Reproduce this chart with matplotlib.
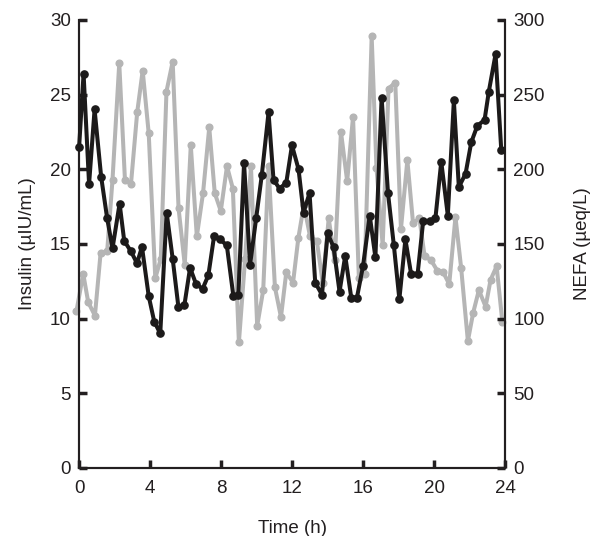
import matplotlib
matplotlib.use("Agg")
import matplotlib.pyplot as plt

plt.rcParams['font.family'] = ['Liberation Sans', 'DejaVu Sans']

# Insulin (grey, left axis, µIU/mL)
insulin_t = [-0.15, 0.23, 0.51, 0.89, 1.21, 1.58, 1.88, 2.26, 2.58, 2.92, 3.27, 3.58,
             3.92, 4.29, 4.60, 4.92, 5.27, 5.60, 5.95, 6.29, 6.63, 6.98, 7.33, 7.64,
             7.98, 8.33, 8.66, 9.00, 9.35, 9.68, 10.03, 10.37, 10.67, 11.03, 11.37, 11.67,
             12.05, 12.35, 12.66, 13.01, 13.39, 13.72, 14.06, 14.40, 14.75, 15.10, 15.43, 15.76,
             16.08, 16.48, 16.75, 17.10, 17.43, 17.81, 18.13, 18.49, 18.81, 19.17, 19.46, 19.83,
             20.18, 20.51, 20.85, 21.20, 21.52, 21.90, 22.20, 22.52, 22.90, 23.18, 23.52, 23.84]
insulin = [10.5, 13.0, 11.1, 10.2, 14.4, 14.5, 19.3, 27.1, 19.3, 19.0, 23.8, 26.6,
           22.4, 12.7, 14.0, 25.2, 27.2, 17.4, 13.6, 21.6, 15.5, 18.4, 22.8, 18.4,
           17.2, 20.2, 18.7, 8.4, 14.0, 20.2, 9.5, 11.9, 20.2, 12.1, 10.1, 13.1,
           12.4, 15.4, 17.6, 15.5, 15.2, 12.4, 16.7, 13.9, 22.5, 19.2, 23.5, 12.7,
           13.0, 28.9, 20.1, 14.9, 25.4, 25.8, 16.0, 20.6, 16.4, 16.7, 14.2, 13.9,
           13.2, 13.1, 12.3, 16.8, 13.4, 8.5, 10.4, 11.9, 10.8, 12.6, 13.5, 9.8]

# NEFA (black, right axis, µeq/L)
nefa_t = [0.00, 0.25, 0.56, 0.87, 1.24, 1.58, 1.88, 2.28, 2.54, 2.92, 3.26, 3.54,
          3.92, 4.23, 4.57, 4.93, 5.27, 5.59, 5.93, 6.25, 6.59, 6.96, 7.28, 7.60,
          7.94, 8.32, 8.69, 8.97, 9.29, 9.63, 9.97, 10.29, 10.67, 10.95, 11.29, 11.67,
          11.99, 12.36, 12.64, 12.98, 13.30, 13.68, 14.00, 14.33, 14.67, 14.99, 15.33, 15.65,
          15.99, 16.37, 16.69, 17.04, 17.40, 17.73, 18.04, 18.38, 18.70, 19.07, 19.38, 19.75,
          20.07, 20.40, 20.77, 21.11, 21.39, 21.77, 22.09, 22.43, 22.84, 23.08, 23.46, 23.78]
nefa = [215, 264, 190, 240, 195, 167, 147, 177, 152, 145, 137, 148,
        115, 98, 90, 171, 140, 108, 109, 134, 123, 120, 129, 155,
        153, 149, 115, 116, 204, 136, 167, 196, 238, 193, 187, 191,
        216, 200, 171, 184, 124, 116, 157, 148, 118, 142, 114, 114,
        135, 169, 141, 248, 184, 149, 113, 153, 130, 130, 165, 165,
        167, 205, 169, 246, 188, 197, 218, 229, 233, 252, 277, 213]

x_ticks = [0, 4, 8, 12, 16, 20, 24]
left_ticks = [0, 5, 10, 15, 20, 25, 30]
right_ticks = [0, 50, 100, 150, 200, 250, 300]

fig = plt.figure(figsize=(5.95, 5.36), dpi=100)
ax = fig.add_axes([0.133, 0.127, 0.716, 0.836])
ax2 = ax.twinx()

fs = 13.5
ax.plot(insulin_t, insulin, color='#b5b5b5', lw=2.9, marker='o', ms=4.8,
        mec='#b5b5b5', mfc='#b5b5b5', clip_on=False, zorder=3)
ax2.plot(nefa_t, nefa, color='#1c1a1a', lw=2.9, marker='o', ms=5.2,
         mec='#1c1a1a', mfc='#1c1a1a', clip_on=False, zorder=3)

ax.set_xlim(0, 24)
ax.set_ylim(0, 30)
ax2.set_ylim(0, 300)
ax.set_xticks(x_ticks)
ax.set_yticks(left_ticks)
ax2.set_yticks(right_ticks)

for a in (ax, ax2):
    a.spines['top'].set_visible(False)
    for s in ('left', 'right', 'bottom'):
        a.spines[s].set_linewidth(1.5)
        a.spines[s].set_color('#231f20')
    a.tick_params(direction='in', length=6, width=2.5, color='#231f20',
                  labelsize=fs, labelcolor='#231f20', pad=6)
ax.tick_params(axis='x', pad=9)

ax.set_xlabel('Time (h)', fontsize=fs, color='#231f20', labelpad=16)
ax.set_ylabel('Insulin (µIU/mL)', fontsize=fs, color='#231f20', labelpad=10)
ax2.set_ylabel('NEFA (µeq/L)', fontsize=fs, color='#231f20', rotation=90, labelpad=21)

fig.savefig('out.png', dpi=100)
